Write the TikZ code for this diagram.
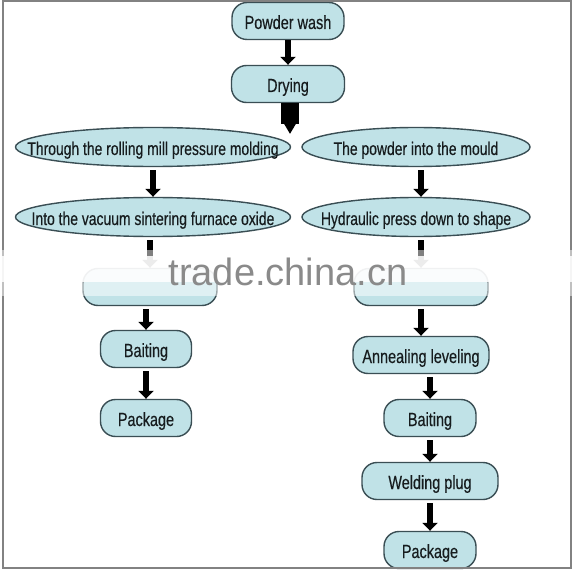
\documentclass[tikz,border=0pt]{standalone}
\usepackage{fontspec}
\setmainfont{Liberation Sans}[FakeStretch=0.76, FakeBold=0.4]
\newfontfamily\markfont{Liberation Sans}
\usetikzlibrary{arrows.meta}
\usetikzlibrary{shapes.geometric}
\definecolor{boxfill}{RGB}{192,226,231}
\definecolor{boxline}{RGB}{58,78,84}
\definecolor{boxtext}{RGB}{22,28,30}
\definecolor{framegray}{RGB}{130,130,130}
\definecolor{markgray}{RGB}{138,138,138}
\newcommand{\flatlabel}[1]{\makebox[0pt]{#1}}

\begin{document}
\begin{tikzpicture}[x=1pt, y=-1pt,
    every node/.style={font=\fontsize{19}{20}\selectfont, text=boxtext, text height=16pt, text depth=0pt},
    pill/.style={rectangle, draw=boxline, line width=1.4pt, fill=boxfill, rounded corners=15pt, inner sep=0pt, minimum height=37pt},
    flat/.style={ellipse, draw=boxline, line width=1.4pt, fill=boxfill, inner sep=0pt, minimum height=39pt, font=\fontsize{18.3}{20}\selectfont},
    arr/.style={line width=6pt, -{Triangle[width=15pt,length=8pt]}, shorten <=3pt}]
    \useasboundingbox (0, 0) rectangle (575, 572);
    \fill[white] (0, 0) rectangle (575, 572);

    \node[pill, minimum width=112pt] (wash) at (288, 21) {Powder wash};
    \node[pill, minimum width=113pt] (dry) at (288, 84) {Drying};
    \coordinate (split) at (290, 134);

    \node[flat, minimum width=275pt] (rollL) at (153, 147) {\flatlabel{Through the rolling mill pressure molding}};
    \node[flat, minimum width=275pt] (vacL) at (153, 217) {\flatlabel{Into the vacuum sintering furnace oxide}};
    \node[pill, minimum width=134pt] (hidL) at (150, 287) {};
    \node[pill, minimum width=91pt] (baitL) at (146, 349) {Baiting};
    \node[pill, minimum width=91pt] (packL) at (146, 418) {Package};

    \node[flat, minimum width=228pt] (mouldR) at (416, 147) {\flatlabel{The powder into the mould}};
    \node[flat, minimum width=228pt] (hydR) at (416, 217) {\flatlabel{Hydraulic press down to shape}};
    \node[pill, minimum width=134pt] (hidR) at (421, 287) {};
    \node[pill, minimum width=136pt] (annR) at (421, 355) {Annealing leveling};
    \node[pill, minimum width=92pt] (baitR) at (430, 418) {Baiting};
    \node[pill, minimum width=136pt] (weldR) at (430, 481) {Welding plug};
    \node[pill, minimum width=92pt] (packR) at (430, 550) {Package};

    \draw[arr, shorten <=0pt] (wash.south) -- (dry.north);
    \draw[line width=18pt, -{Triangle[width=12pt,length=11pt]}] (dry.south -| split) -- (split);

    \draw[arr] (rollL.south) -- (vacL.north);
    \draw[arr] (vacL.south -| hidL.north) -- (hidL.north);
    \draw[arr] (hidL.south -| baitL.north) -- (baitL.north);
    \draw[arr] (baitL.south) -- (packL.north);

    \draw[arr] (mouldR.south -| hidR.north) -- (hydR.north -| hidR.north);
    \draw[arr] (hydR.south -| hidR.north) -- (hidR.north);
    \draw[arr] (hidR.south) -- (annR.north);
    \draw[arr] (annR.south -| baitR.north) -- (baitR.north);
    \draw[arr] (baitR.south) -- (weldR.north);
    \draw[arr] (weldR.south) -- (packR.north);

    \draw[framegray, line width=2pt] (3, 1) rectangle (571, 568);

    % watermark band
    \fill[white, opacity=0.5] (0, 250) rectangle (575, 296);
    \fill[white, opacity=0.85] (0, 256) rectangle (575, 282);
    \node[anchor=base, font=\markfont\fontsize{38}{40}\selectfont, text=markgray, text height=, text depth=] (mark) at (288, 285) {trade.china.cn};
\end{tikzpicture}
\end{document}
